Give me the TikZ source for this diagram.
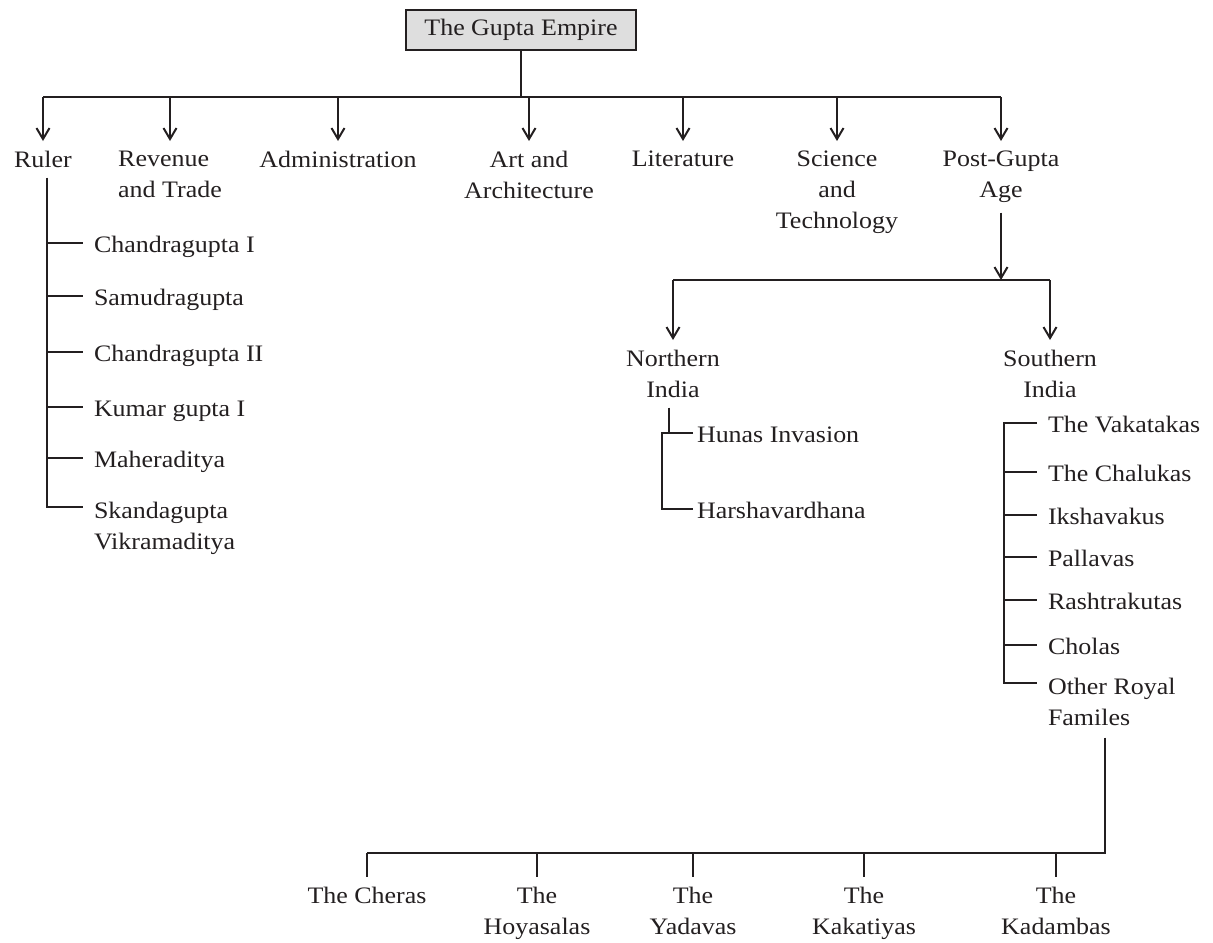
\documentclass[tikz,border=0pt]{standalone}
\usepackage{fontspec}
\setmainfont{Liberation Serif}[FakeStretch=1.1]
\usetikzlibrary{arrows.meta}
\definecolor{ink}{HTML}{231F20}
\definecolor{boxfill}{HTML}{DEDEDE}

\begin{document}
\begin{tikzpicture}[
  x=0.5pt, y=-0.5pt, ink, line width=1pt,
  font=\fontsize{11.8}{15.5}\selectfont,
  >={Straight Barb[length=5.5pt,width=6.5pt]},
  titlebox/.style={draw, fill=boxfill, minimum width=115pt, minimum height=20pt},
  catnode/.style={align=center, inner sep=4.5pt, anchor=north},
  listitem/.style={inner xsep=5pt, inner ysep=2.5pt, text height=9.5pt, text depth=0pt, anchor=west},
  listsub/.style={listitem, inner xsep=1.5pt},
  listmulti/.style={align=left, inner xsep=5pt, inner ysep=2.5pt, anchor=north west},
]
\useasboundingbox (0,0) rectangle (1213,942);
% title
\node[titlebox] (gupta) at (521,30) {The Gupta Empire};
% first level
\node[catnode] (ruler) at (43,141) {Ruler};
\node[catnode, align=left] (revenue) at (170,141) {Revenue\\and Trade};
\node[catnode] (admin) at (338,141) {Administration};
\node[catnode] (art) at (529,141) {Art and\\Architecture};
\node[catnode] (lit) at (683,141) {Literature};
\node[catnode] (sci) at (837,141) {Science\\and\\Technology};
\node[catnode] (post) at (1001,141) {Post-Gupta\\Age};
\coordinate (tbar) at (0,97);
\draw (gupta.south) -- (gupta.south |- tbar);
\draw (ruler.north |- tbar) -- (post.north |- tbar);
\foreach \n in {ruler,revenue,admin,art,lit,sci,post}
  \draw[->] (\n.north |- tbar) -- (\n.north);
% rulers
\node[listitem] (cgone) at (83,243) {Chandragupta I};
\node[listitem] (samudra) at (83,296) {Samudragupta};
\node[listitem] (cgtwo) at (83,352) {Chandragupta II};
\node[listitem] (kumar) at (83,407) {Kumar gupta I};
\node[listitem] (maher) at (83,458) {Maheraditya};
\node[listmulti] (skanda) at (83,495.9) {Skandagupta\\Vikramaditya};
\coordinate (rtrunk) at ([xshift=2pt]ruler.south);
\draw (rtrunk) |- ([yshift=-5.6pt]skanda.north west);
\foreach \n in {cgone,samudra,cgtwo,kumar,maher}
  \draw (\n.west -| rtrunk) -- (\n.west);
% post-gupta age
\node[catnode] (northern) at (673,340) {Northern\\India};
\node[catnode] (southern) at (1050,340) {Southern\\India};
\coordinate (pbar) at (0,280);
\draw[->] (post.south) -- (post.south |- pbar);
\draw (northern.north |- pbar) -- (southern.north |- pbar);
\foreach \n in {northern,southern}
  \draw[->] (\n.north |- pbar) -- (\n.north);
% northern india
\node[listsub] (hunas) at (693,433) {Hunas Invasion};
\node[listsub] (harsha) at (693,509) {Harshavardhana};
\coordinate (nleft) at (662,433);
\draw ([xshift=-2pt]northern.south) -- ([xshift=-2pt]northern.south |- hunas.west);
\draw (hunas.west) -- (nleft) |- (harsha.west);
% southern india
\node[listitem] (vaka) at (1037,423) {The Vakatakas};
\node[listitem] (chalu) at (1037,472) {The Chalukas};
\node[listitem] (iksh) at (1037,515) {Ikshavakus};
\node[listitem] (pall) at (1037,557) {Pallavas};
\node[listitem] (rash) at (1037,600) {Rashtrakutas};
\node[listitem] (chola) at (1037,645) {Cholas};
\node[listmulti] (other) at (1037,671.9) {Other Royal\\Familes};
\coordinate (strunk) at (1004,423);
\draw (vaka.west) -- (strunk) |- ([yshift=-5.6pt]other.north west);
\foreach \n in {chalu,iksh,pall,rash,chola}
  \draw (\n.west -| strunk) -- (\n.west);
% other royal families
\node[catnode] (cheras) at (367,877) {The Cheras};
\node[catnode] (hoy) at (537,877) {The\\Hoyasalas};
\node[catnode] (yad) at (693,877) {The\\Yadavas};
\node[catnode] (kak) at (864,877) {The\\Kakatiyas};
\node[catnode] (kad) at (1056,877) {The\\Kadambas};
\coordinate (bbar) at (0,853);
\draw ([xshift=-3.5pt,yshift=-3pt]other.south) |- (cheras.north |- bbar);
\foreach \n in {cheras,hoy,yad,kak,kad}
  \draw (\n.north |- bbar) -- (\n.north);
\end{tikzpicture}
\end{document}
